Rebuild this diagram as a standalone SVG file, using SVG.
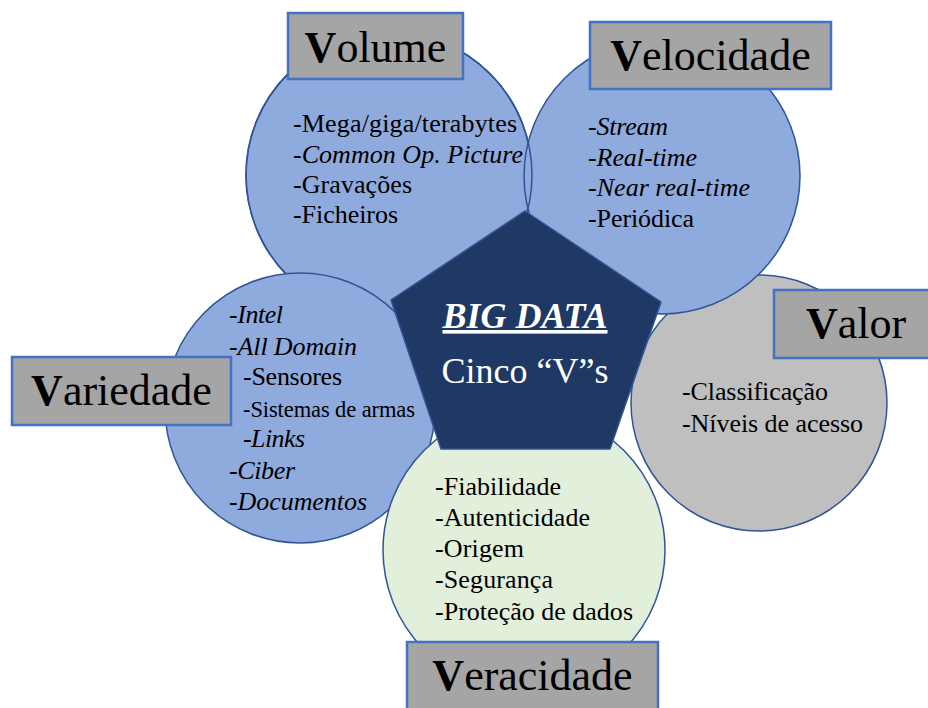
<svg xmlns="http://www.w3.org/2000/svg" width="928" height="708" viewBox="0 0 928 708">
<style>
.blue{fill:#8faadc;stroke:#2f5597;stroke-width:1.5}
.gray{fill:#bfbfbf;stroke:#2f5597;stroke-width:1.5}
.green{fill:#e2efda;stroke:#2f5597;stroke-width:1.5}
.box{fill:#a5a5a5;stroke:#4472c4;stroke-width:2.5}
.t{font-family:"Liberation Serif","Times New Roman",serif;font-size:26px;fill:#000}
.s{font-size:22.5px}
.i{font-style:italic}
.title{font-family:"Liberation Serif","Times New Roman",serif;font-size:44px;fill:#000;text-anchor:middle}
.c{font-family:"Liberation Serif","Times New Roman",serif;font-size:36px;fill:#fff;text-anchor:middle}
</style>
<rect width="928" height="708" fill="#fff"/>
<g id="valor-circle"><circle class="gray" cx="759" cy="403" r="128"/></g>
<g id="volume-circle"><circle class="blue" cx="389" cy="175" r="143"/></g>
<g id="velocidade-circle"><circle class="blue" cx="662" cy="176" r="138"/></g>
<circle cx="389" cy="175" r="143" fill="none" stroke="#2f5597" stroke-width="1.5"/>
<g id="variedade-circle"><circle class="blue" cx="300" cy="408" r="135"/></g>
<g id="veracidade-circle"><circle class="green" cx="524" cy="550" r="141"/></g>
<g id="bigdata">
<polygon points="525,211 661,302 610,449 441,449 391,300" fill="#1f3864" stroke="#2f5597" stroke-width="1.5"/>
<text class="c" x="525" y="328" font-weight="bold" font-style="italic" text-decoration="underline">BIG DATA</text>
<text class="c" x="525" y="383">Cinco “V”s</text>
</g>
<g id="volume">
<rect class="box" x="288" y="13" width="175" height="66"/>
<text class="title" x="375.5" y="62"><tspan font-weight="bold">V</tspan>olume</text>
<text class="t" x="293" y="132" textLength="224" lengthAdjust="spacing">-Mega/giga/terabytes</text>
<text class="t" x="293" y="163" textLength="230" lengthAdjust="spacing">-<tspan class="i">Common Op. Picture</tspan></text>
<text class="t" x="293" y="193" textLength="119" lengthAdjust="spacing">-Gravações</text>
<text class="t" x="293" y="223" textLength="105" lengthAdjust="spacing">-Ficheiros</text>
</g>
<g id="velocidade">
<rect class="box" x="590" y="22" width="241" height="67"/>
<text class="title" x="710.5" y="70"><tspan font-weight="bold">V</tspan>elocidade</text>
<text class="t i" x="588" y="135" textLength="80" lengthAdjust="spacing">-Stream</text>
<text class="t i" x="588" y="166" textLength="109" lengthAdjust="spacing">-Real-time</text>
<text class="t i" x="588" y="196" textLength="162" lengthAdjust="spacing">-Near real-time</text>
<text class="t" x="588" y="227" textLength="106" lengthAdjust="spacing">-Periódica</text>
</g>
<g id="variedade">
<rect class="box" x="12" y="357" width="219" height="68"/>
<text class="title" x="121.5" y="405"><tspan font-weight="bold">V</tspan>ariedade</text>
<text class="t i" x="229" y="323" textLength="54" lengthAdjust="spacing">-Intel</text>
<text class="t i" x="229" y="355" textLength="128" lengthAdjust="spacing">-All Domain</text>
<text class="t" x="243" y="385" textLength="99" lengthAdjust="spacing">-Sensores</text>
<text class="t s" x="243" y="417" textLength="172" lengthAdjust="spacing">-Sistemas de armas</text>
<text class="t i" x="243" y="447" textLength="62" lengthAdjust="spacing">-Links</text>
<text class="t i" x="229" y="479" textLength="66" lengthAdjust="spacing">-Ciber</text>
<text class="t i" x="229" y="510" textLength="138" lengthAdjust="spacing">-Documentos</text>
</g>
<g id="valor">
<rect class="box" x="774" y="290" width="170" height="68"/>
<text class="title" x="856" y="338"><tspan font-weight="bold">V</tspan>alor</text>
<text class="t" x="682" y="400" textLength="146" lengthAdjust="spacing">-Classificação</text>
<text class="t" x="682" y="432" textLength="181" lengthAdjust="spacing">-Níveis de acesso</text>
</g>
<g id="veracidade">
<rect class="box" x="407" y="642" width="251" height="80"/>
<text class="title" x="532.5" y="690"><tspan font-weight="bold">V</tspan>eracidade</text>
<text class="t" x="435" y="495" textLength="126" lengthAdjust="spacing">-Fiabilidade</text>
<text class="t" x="435" y="526" textLength="155" lengthAdjust="spacing">-Autenticidade</text>
<text class="t" x="435" y="557" textLength="89" lengthAdjust="spacing">-Origem</text>
<text class="t" x="435" y="588" textLength="118" lengthAdjust="spacing">-Segurança</text>
<text class="t" x="435" y="620" textLength="198" lengthAdjust="spacing">-Proteção de dados</text>
</g>
<g id="connectors"></g>
</svg>
